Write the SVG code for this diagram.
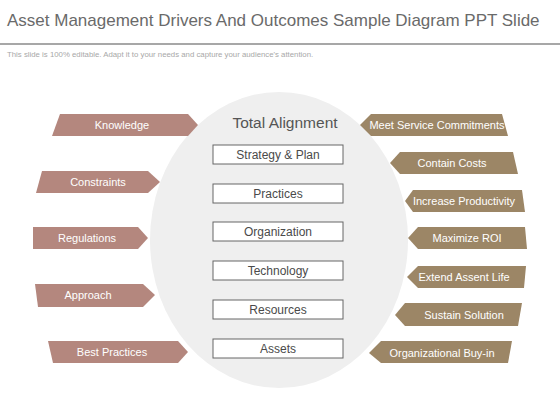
<svg xmlns="http://www.w3.org/2000/svg" width="560" height="420" viewBox="0 0 560 420">
<style>
.title{font-family:"Liberation Sans",Arial,sans-serif;font-size:17px;fill:#6a6a6a}
.sub{font-family:"Liberation Sans",Arial,sans-serif;font-size:7.8px;fill:#a8a8a8}
.lt{fill:#b4877e}
.rt{fill:#9c8666}
.at{font-family:"Liberation Sans",Arial,sans-serif;font-size:11px;fill:#ffffff;text-anchor:middle}
.box{fill:#ffffff;stroke:#666666;stroke-width:1}
.bt{font-family:"Liberation Sans",Arial,sans-serif;font-size:12px;fill:#4a4a4a;text-anchor:middle}
</style>
<rect width="560" height="420" fill="#ffffff"/>
<text class="title" x="7" y="26">Asset Management  Drivers And Outcomes Sample Diagram PPT Slide</text>
<line x1="0" y1="44" x2="560" y2="44" stroke="#8a8a8a" stroke-width="1.5"/>
<text class="sub" x="7" y="57">This slide is 100% editable. Adapt it to your needs and capture your audience's attention.</text>
<g id="center">
<ellipse cx="279" cy="240" rx="129" ry="148" fill="#efefef"/>
<text x="285" y="128" font-family="Liberation Sans, Arial, sans-serif" font-size="15.5" fill="#555555" text-anchor="middle">Total Alignment</text>
</g>
<g id="strategy"><rect class="box" x="213" y="145" width="130" height="19"/><text class="bt" x="278" y="159">Strategy &amp; Plan</text></g>
<g id="practices"><rect class="box" x="213" y="184" width="130" height="19"/><text class="bt" x="278" y="198">Practices</text></g>
<g id="organization"><rect class="box" x="213" y="222" width="130" height="19"/><text class="bt" x="278" y="236">Organization</text></g>
<g id="technology"><rect class="box" x="213" y="261" width="130" height="19"/><text class="bt" x="278" y="275">Technology</text></g>
<g id="resources"><rect class="box" x="213" y="300" width="130" height="19"/><text class="bt" x="278" y="314">Resources</text></g>
<g id="assets"><rect class="box" x="213" y="339" width="130" height="19"/><text class="bt" x="278" y="353">Assets</text></g>
<g id="knowledge"><polygon class="lt" points="60,114 188,114 198,125 188,136 52,136"/><text class="at" x="122" y="129">Knowledge</text></g>
<g id="constraints"><polygon class="lt" points="42,171 148,171 160,182 148,193 36,193"/><text class="at" x="98" y="186">Constraints</text></g>
<g id="regulations"><polygon class="lt" points="33,227 138,227 148,238 138,249 33,249"/><text class="at" x="87" y="242">Regulations</text></g>
<g id="approach"><polygon class="lt" points="35,284 143,284 155,295 143,307 38,307"/><text class="at" x="88" y="299">Approach</text></g>
<g id="bestpractices"><polygon class="lt" points="48,341 178,341 188,352 178,363 53,363"/><text class="at" x="112" y="356">Best Practices</text></g>
<g id="meet"><polygon class="rt" points="360,125 371,114 502,114 508,136 371,136"/><text class="at" x="437" y="129">Meet Service Commitments</text></g>
<g id="contain"><polygon class="rt" points="390,163 400,152 513,152 518,174 400,174"/><text class="at" x="452" y="167">Contain Costs</text></g>
<g id="increase"><polygon class="rt" points="405,201 413,190 522,190 525,212 413,212"/><text class="at" x="464" y="205">Increase Productivity</text></g>
<g id="maximize"><polygon class="rt" points="408,238 418,227 525,227 527,249 418,249"/><text class="at" x="467" y="242">Maximize ROI</text></g>
<g id="extend"><polygon class="rt" points="407,277 418,266 526,266 524,288 418,288"/><text class="at" x="464" y="281">Extend Assent Life</text></g>
<g id="sustain"><polygon class="rt" points="395,315 405,303 522,303 518,326 405,326"/><text class="at" x="464" y="319">Sustain Solution</text></g>
<g id="buyin"><polygon class="rt" points="369,353 381,341 512,341 508,363 381,363"/><text class="at" x="442" y="357">Organizational Buy-in</text></g>
<g id="connectors"/>
</svg>
